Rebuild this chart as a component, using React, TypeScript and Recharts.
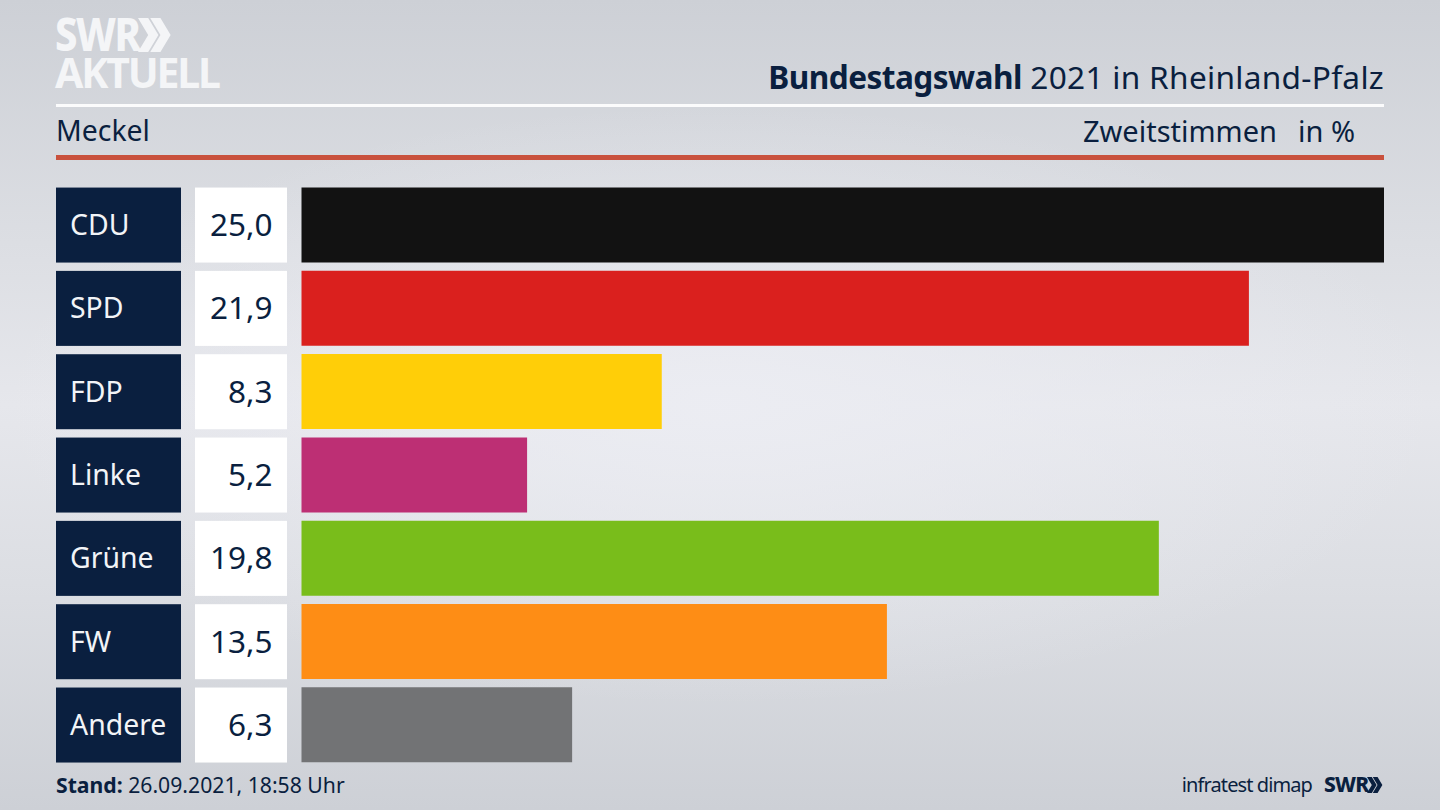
import { BarChart, Bar, XAxis, YAxis, Cell } from 'recharts';

const parties = ['CDU', 'SPD', 'FDP', 'Linke', 'Grüne', 'FW', 'Andere'];
// the boxes show them with one decimal
const shares = [25.0, 21.88, 8.32, 5.21, 19.8, 13.52, 6.25];
const colors = ['#121212', '#da201e', '#ffce08', '#bd2f74', '#79bd1b', '#fe8d15', '#727375'];

const rows = parties.map((party, i) => ({ party, share: shares[i] }));

const NAVY = '#0a1f3f';
const FONT = '"Noto Sans", sans-serif';

const PartyTick = ({ y, payload, index }: any) => {
    const top = y - 37.5;
    return (
        <g>
            <rect x={56} y={top} width={125} height={75} fill={NAVY} />
            <rect x={195} y={top} width={92} height={75} fill='#fff' />
            <text x={70} y={y + 10} fontSize={28.4} fill='#f2f4f7' fontFamily={FONT}>{payload.value}</text>
            <text x={272.5} y={y + 11} fontSize={31.5} fill={NAVY} fontFamily={FONT} textAnchor='end'>
                {shares[index].toFixed(1).replace('.', ',')}
            </text>
        </g>
    );
};

const text = (left: number | undefined, right: number | undefined, top: number, size: number): React.CSSProperties => ({
    position: 'absolute',
    left,
    right,
    top,
    fontSize: size,
    lineHeight: 1,
    color: NAVY,
    whiteSpace: 'nowrap',
    fontFamily: FONT,
});

const rule = (top: number, height: number, background: string): React.CSSProperties => ({
    position: 'absolute',
    left: 56,
    width: 1328,
    top,
    height,
    background,
});

const Chevrons = ({ x, y, h, fill }: { x: number; y: number; h: number; fill: string }) => {
    const w = h * 0.6;
    const t = h * 0.3;
    const arrow = (ox: number) =>
        `${ox},0 ${ox + t},0 ${ox + w},${h / 2} ${ox + t},${h} ${ox},${h} ${ox + w - t},${h / 2}`;
    return (
        <svg style={{ position: 'absolute', left: x, top: y }} width={h} height={h}>
            <polygon points={arrow(0)} fill={fill} />
            <polygon points={arrow(h * 0.36)} fill={fill} />
        </svg>
    );
};

export default function App() {
    return (
        <div
            style={{
                position: 'absolute',
                left: 0,
                top: 0,
                width: 1440,
                height: 810,
                overflow: 'hidden',
                background:
                    'radial-gradient(ellipse 720px 300px at 50% 50%, rgba(236,237,243,0.9), rgba(236,237,243,0) 100%), linear-gradient(180deg, #cdd0d6 0%, #dcdee3 30%, #e6e7ec 50%, #dcdee3 72%, #cdd0d6 100%)',
            }}
        >
            <div
                style={{
                    ...text(55, undefined, 11, 40),
                    color: '#f4f5f7',
                    fontWeight: 800,
                    letterSpacing: -1.5,
                    transform: 'scaleY(1.14)',
                    transformOrigin: 'top left',
                }}
            >
                SWR
            </div>
            <Chevrons x={138} y={18} h={34} fill='#f4f5f7' />
            <div style={{ ...text(55, undefined, 57, 41), lineHeight: '31px', color: '#f4f5f7', fontWeight: 700, letterSpacing: -2.2 }}>AKTUELL</div>

            <div style={{ ...text(undefined, 56, 61, 31.6), letterSpacing: 0.3 }}>
                <b style={{ letterSpacing: -0.55 }}>Bundestagswahl</b> 2021 in Rheinland-Pfalz
            </div>
            <div style={rule(104, 3, '#fbfbfc')} />
            <div style={{ ...text(56, undefined, 116, 28.4) }}>Meckel</div>
            <div style={{ ...text(undefined, 163, 116, 29) }}>Zweitstimmen</div>
            <div style={{ ...text(undefined, 85, 116, 29) }}>in %</div>
            <div style={rule(155, 5, '#c9513d')} />

            <div style={{ position: 'absolute', left: 0, top: 0 }}>
                <BarChart
                    width={1440}
                    height={810}
                    layout='vertical'
                    data={rows}
                    margin={{ top: 183.4, right: 56, bottom: 43.3, left: 56 }}
                >
                    <XAxis type='number' domain={[0, 25]} hide />
                    <YAxis
                        type='category'
                        dataKey='party'
                        width={245.5}
                        axisLine={false}
                        tickLine={false}
                        interval={0}
                        tick={<PartyTick />}
                    />
                    <Bar dataKey='share' barSize={75} isAnimationActive={false}>
                        {rows.map((row, i) => (
                            <Cell key={row.party} fill={colors[i]} />
                        ))}
                    </Bar>
                </BarChart>
            </div>

            <div style={{ ...text(56, undefined, 774, 21.2) }}>
                <b>Stand:</b> 26.09.2021, 18:58 Uhr
            </div>
            <div style={{ ...text(undefined, 128, 775, 20), letterSpacing: -0.9 }}>infratest dimap</div>
            <div style={{ ...text(1324, undefined, 773.5, 21), fontWeight: 800, letterSpacing: -0.8 }}>SWR</div>
            <Chevrons x={1367} y={777} h={16} fill={NAVY} />
        </div>
    );
}
